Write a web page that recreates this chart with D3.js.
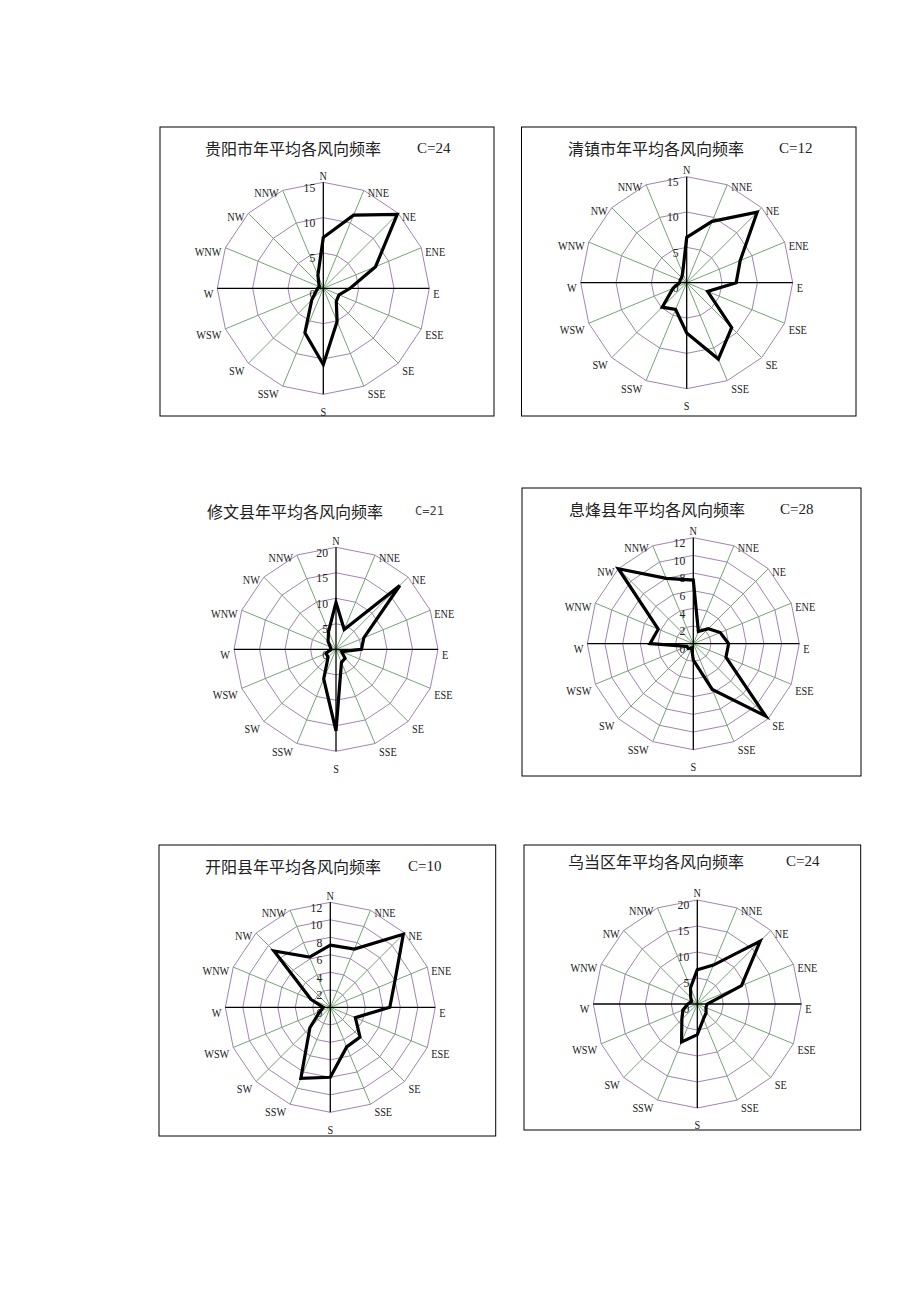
<!DOCTYPE html>
<html lang="zh">
<head>
  <meta charset="UTF-8">
  <title>风向频率玫瑰图</title>
  <script src="https://d3js.org/d3.v7.min.js"></script>
  <style>
    body { margin: 0; background: #fff; }
    svg { display: block; }
    .title { font-family: "Noto Sans CJK SC", sans-serif; font-size: 16px; fill: #222; }
    .calm { font-family: "Liberation Serif", serif; font-size: 15px; fill: #222; }
    .calm.mono { font-family: "DejaVu Sans Mono", monospace; font-size: 12px; fill: #444; }
    .dir { font-family: "Liberation Serif", serif; font-size: 12.5px; fill: #222; }
    .tick { font-family: "Liberation Serif", serif; font-size: 13px; fill: #222; }
  </style>
</head>
<body>
  <svg id="chart" width="920" height="1301"></svg>
  <script>
    // 16 wind directions, clockwise from north
    const directions = ['N','NNE','NE','ENE','E','ESE','SE','SSE','S','SSW','SW','WSW','W','WNW','NW','NNW'];

    const stations = ['贵阳市', '清镇市', '修文县', '息烽县', '开阳县', '乌当区'];
    const calmValues = [24, 12, 21, 28, 10, 24];
    const axisMax = [15, 15, 20, 12, 12, 20];
    const tickStep = [5, 5, 5, 2, 2, 5];

    // frequency (%) per direction, same order as directions
    const guiyang  = [7.2, 11.2, 14.8, 8.0, 3.8, 2.4, 2.6, 5.1, 10.8, 6.8, 2.3, 1.1, 0.8, 0.6, 0.9, 2.0];
    const qingzhen = [6.4, 9.4, 14.1, 8.2, 7.0, 3.2, 9.0, 11.7, 7.1, 4.1, 4.9, 2.1, 1.0, 1.0, 1.0, 1.5];
    const xiuwen   = [9.2, 4.2, 17.7, 5.9, 5.0, 1.2, 2.5, 2.8, 16.0, 6.3, 2.2, 2.1, 1.0, 1.2, 2.2, 3.8];
    const xifeng   = [7.2, 1.5, 2.4, 3.3, 4.0, 4.0, 11.6, 5.6, 1.85, 0.5, 0.8, 0.8, 4.9, 4.3, 12.0, 8.0];
    const kaiyang  = [7.1, 7.2, 11.8, 8.0, 6.8, 3.1, 4.8, 4.9, 8.0, 8.8, 3.3, 1.3, 0.8, 2.4, 9.1, 6.2];
    const wudang   = [6.6, 8.1, 17.1, 9.2, 1.9, 1.8, 2.4, 3.1, 5.9, 7.9, 4.2, 3.0, 1.8, 1.2, 1.8, 3.4];
    const series = [guiyang, qingzhen, xiuwen, xifeng, kaiyang, wudang];

    // page layout for each panel (box = frame, null when no frame)
    const layout = [
      { box: [160, 127, 494, 416],   cx: 323.3, cy: 288.3, r: 106, titleX: 205, titleY: 148, calmX: 417, mono: false },
      { box: [521.5, 127, 856, 416], cx: 686.7, cy: 282.7, r: 106, titleX: 568, titleY: 148, calmX: 779, mono: false },
      { box: null,                   cx: 336,   cy: 649.3, r: 102, titleX: 207, titleY: 511, calmX: 415, mono: true },
      { box: [522, 488, 861, 776],   cx: 693.3, cy: 643.7, r: 106, titleX: 569, titleY: 509, calmX: 780, mono: false },
      { box: [159, 845, 495.7, 1136], cx: 330.3, cy: 1007.3, r: 105, titleX: 205, titleY: 866, calmX: 408, mono: false },
      { box: [524, 845, 860.7, 1130], cx: 697.3, cy: 1004, r: 104, titleX: 568, titleY: 861, calmX: 786, mono: false }
    ];

    const ringColor = '#a383b0';
    const spokeColor = '#74a574';

    const svg = d3.select('#chart');
    const angle = d3.scaleLinear().domain([0, directions.length]).range([0, 2 * Math.PI]);

    stations.forEach((name, i) => {
      const L = layout[i];
      const g = svg.append('g');

      if (L.box) {
        const [x0, y0, x1, y1] = L.box;
        g.append('rect')
          .attr('x', x0).attr('y', y0)
          .attr('width', x1 - x0).attr('height', y1 - y0)
          .attr('fill', 'none').attr('stroke', '#000').attr('stroke-width', 1);
      }

      g.append('text').attr('class', 'title')
        .attr('x', L.titleX).attr('y', L.titleY)
        .attr('dominant-baseline', 'central')
        .text(name + '年平均各风向频率');

      g.append('text').attr('class', L.mono ? 'calm mono' : 'calm')
        .attr('x', L.calmX).attr('y', L.titleY)
        .attr('dominant-baseline', 'central')
        .text('C=' + calmValues[i]);

      const rose = g.append('g').attr('transform', `translate(${L.cx},${L.cy})`);
      const rScale = d3.scaleLinear().domain([0, axisMax[i]]).range([0, L.r]);
      const ticks = d3.range(tickStep[i], axisMax[i] + 0.001, tickStep[i]);

      // rings (16-gons)
      const ringLine = d3.lineRadial()
        .angle((d, k) => angle(k))
        .radius(d => rScale(d))
        .curve(d3.curveLinearClosed);
      ticks.forEach(t => {
        rose.append('path')
          .attr('d', ringLine(directions.map(() => t)))
          .attr('fill', 'none').attr('stroke', ringColor).attr('stroke-width', 1);
      });

      // spokes
      directions.forEach((dir, k) => {
        if (k % 4 === 0) return;
        const a = angle(k);
        rose.append('line')
          .attr('x1', 0).attr('y1', 0)
          .attr('x2', rScale(axisMax[i]) * Math.sin(a))
          .attr('y2', -rScale(axisMax[i]) * Math.cos(a))
          .attr('stroke', spokeColor).attr('stroke-width', 1);
      });

      // main N-S and E-W axes
      const R = rScale(axisMax[i]);
      rose.append('line').attr('x1', 0).attr('y1', -R).attr('x2', 0).attr('y2', R)
        .attr('stroke', '#000').attr('stroke-width', 1.3);
      rose.append('line').attr('x1', -R).attr('y1', 0).attr('x2', R).attr('y2', 0)
        .attr('stroke', '#000').attr('stroke-width', 1.3);

      // tick labels
      [0].concat(ticks).forEach(t => {
        rose.append('g')
          .attr('transform', `translate(-8,${-rScale(t) + 5}) scale(0.9,1)`)
          .append('text').attr('class', 'tick')
          .attr('text-anchor', 'end')
          .attr('dominant-baseline', 'central')
          .text(t);
      });

      // direction labels
      directions.forEach((dir, k) => {
        const a = angle(k);
        const vx = R * Math.sin(a), vy = -R * Math.cos(a);
        let x, y, anchor;
        if (k === 0) { x = 0; y = -R - 7; anchor = 'middle'; }
        else if (k === 8) { x = 0; y = R + 17; anchor = 'middle'; }
        else if (k < 8) { x = vx + 4; y = vy + 5 - 3 * Math.cos(a); anchor = 'start'; }
        else { x = vx - 4; y = vy + 5 - 3 * Math.cos(a); anchor = 'end'; }
        rose.append('g')
          .attr('transform', `translate(${x},${y}) scale(0.82,1)`)
          .append('text').attr('class', 'dir')
          .attr('text-anchor', anchor)
          .attr('dominant-baseline', 'central')
          .text(dir);
      });

      // frequency polygon
      const dataLine = d3.lineRadial()
        .angle((d, k) => angle(k))
        .radius(d => rScale(d))
        .curve(d3.curveLinearClosed);
      rose.append('path')
        .attr('d', dataLine(series[i]))
        .attr('fill', 'none').attr('stroke', '#000')
        .attr('stroke-width', 3.2).attr('stroke-linejoin', 'miter');
    });
  </script>
</body>
</html>
